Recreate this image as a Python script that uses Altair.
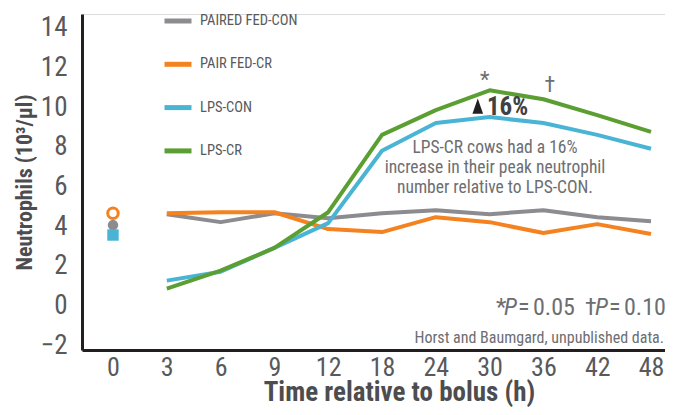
import altair as alt
import pandas as pd

# ---------------- data ----------------
hours = ["0", "3", "6", "9", "12", "18", "24", "30", "36", "42", "48"]
series_names = ["PAIRED FED-CON", "PAIR FED-CR", "LPS-CON", "LPS-CR"]
series_colors = ["#8c8b90", "#f58220", "#4ab4d4", "#5b9f32"]

paired_fed_con = [4.6, 4.2, 4.65, 4.4, 4.65, 4.8, 4.6, 4.8, 4.45, 4.25]
pair_fed_cr = [4.65, 4.7, 4.7, 3.85, 3.7, 4.45, 4.2, 3.65, 4.1, 3.6]
lps_con = [1.25, 1.7, 2.9, 4.15, 7.8, 9.2, 9.5, 9.2, 8.6, 7.9]
lps_cr = [0.85, 1.75, 2.9, 4.7, 8.6, 9.85, 10.85, 10.4, 9.6, 8.75]

# values at hour 0 (separate markers)
baseline_gray = [4.05]
baseline_orange = [4.65]
baseline_blue = [3.55]

y_ticks = [-2, 0, 2, 4, 6, 8, 10, 12, 14]

FONT = "Roboto Condensed, Liberation Sans Narrow, DejaVu Sans Condensed, Roboto, sans-serif"
TXT = "#58595b"
DARK = "#231f20"

rows = []
for name, vals in zip(series_names, [paired_fed_con, pair_fed_cr, lps_con, lps_cr]):
    for i, v in enumerate(vals):
        rows.append({"series": name, "idx": i + 1, "hour": hours[i + 1], "value": v})
df = pd.DataFrame(rows)

label_expr = "[" + ",".join("'" + h + "'" for h in hours) + "][datum.value]"

x_scale = alt.Scale(domain=[-0.576, 10.26], nice=False, zero=False)
y_scale = alt.Scale(domain=[-2.25, 14.7], nice=False, zero=False)

x_enc = alt.X("idx:Q", scale=x_scale, axis=alt.Axis(
    values=list(range(len(hours))), labelExpr=label_expr, grid=False, ticks=False,
    domainColor=DARK, domainWidth=3, labelFontSize=26, labelFont=FONT, labelColor=TXT,
    labelPadding=4, title="Time relative to bolus (h)", titleFont=FONT, titleFontSize=27,
    titleFontWeight="bold", titleColor="#4d4d4f", titleX=317, titleY=50,
    titleBaseline="alphabetic"))
y_enc = alt.Y("value:Q", scale=y_scale, axis=alt.Axis(
    values=y_ticks, grid=False, ticks=False, domainColor=DARK, domainWidth=3,
    labelFontSize=27, labelFont=FONT, labelColor=TXT, labelPadding=15,
    title="Neutrophils (10³/µl)", titleFont=FONT, titleFontSize=22,
    titleFontWeight="bold", titleColor="#4d4d4f", titleX=-58,
    titleBaseline="middle"))

lines = alt.Chart(df).mark_line(strokeWidth=4, strokeJoin="round").encode(
    x=x_enc, y=y_enc,
    color=alt.Color("series:N", scale=alt.Scale(domain=series_names, range=series_colors),
                    legend=alt.Legend(orient="none", legendX=80, legendY=-9, title=None,
                                      symbolType="stroke", symbolStrokeWidth=5,
                                      symbolSize=729, labelFontSize=14.5, labelFont=FONT,
                                      labelColor=TXT, labelOffset=6, rowPadding=17.3,
                                      direction="vertical")),
    order="idx:Q",
)

base0 = pd.DataFrame({"idx": [0], "g": baseline_gray, "o": baseline_orange, "b": baseline_blue})
m_gray = alt.Chart(base0).mark_point(filled=True, size=110, color="#8c8b90", opacity=1).encode(
    x="idx:Q", y="g:Q")
m_blue = alt.Chart(base0).mark_point(shape="square", filled=True, size=130, color="#4ab4d4",
                                     opacity=1).encode(x="idx:Q", y="b:Q")
m_orange = alt.Chart(base0).mark_point(filled=False, size=110, stroke="#f58220", strokeWidth=3,
                                       fill="white", fillOpacity=1, opacity=1).encode(
    x="idx:Q", y="o:Q")

# annotations
ann_star = pd.DataFrame({"idx": [6.91, 8.12], "v": [11.35, 11.1], "t": ["*", "†"]})
stars = alt.Chart(ann_star).mark_text(font=FONT, fontSize=22, color="#6d6e71",
                                      baseline="middle").encode(x="idx:Q", y="v:Q", text="t:N")

pct = pd.DataFrame({"idx": [6.95], "v": [10.0], "t": ["16%"]})
pct_text = alt.Chart(pct).mark_text(font=FONT, fontSize=25, fontWeight="bold", color="#414042",
                                    align="left", baseline="middle").encode(
    x="idx:Q", y="v:Q", text="t:N")
tri = pd.DataFrame({"idx": [6.78], "v": [10.05]})
tri_mark = alt.Chart(tri).mark_point(shape="M0,-1L0.7,1L-0.7,1Z", filled=True, size=230,
                                     color=DARK, opacity=1).encode(x="idx:Q", y="v:Q")

note = pd.DataFrame({"idx": [7.1], "v": [7.94],
                     "t": [["LPS-CR cows had a 16%", "increase in their peak neutrophil",
                            "number relative to LPS-CON."]]})
note_text = alt.Chart(note).mark_text(font=FONT, fontSize=17.5, color="#6d6e71", align="center",
                                      baseline="middle", lineHeight=20).encode(
    x="idx:Q", y="v:Q", text="t")

# footnotes (pixel layout, relative to plot origin)
pieces = [
    ("*", 414, "normal"),
    ("P", 422, "italic"),
    ("=", 436, "normal"),
    ("0.05", 451, "normal"),
    ("†", 503, "normal"),
    ("P", 513, "italic"),
    ("=", 527, "normal"),
    ("0.10", 542, "normal"),
]
foot_layers = []
for t, xl, st in pieces:
    foot_layers.append(alt.Chart(base0).mark_text(
        text=t, font=FONT, fontSize=24, fontStyle=st, color="#6d6e71", align="left",
        baseline="middle").encode(x=alt.value(xl), y=alt.value(294)))
credit = alt.Chart(base0).mark_text(
    text="Horst and Baumgard, unpublished data.", font=FONT, fontSize=16, color="#6d6e71",
    align="right", baseline="middle").encode(x=alt.value(582), y=alt.value(324))

chart = alt.layer(
    lines, m_gray, m_blue, m_orange, stars, tri_mark, pct_text, note_text, *foot_layers, credit
).properties(
    width=583, height=336,
    padding={"left": 74, "top": 6, "right": 0, "bottom": 57},
    autosize=alt.AutoSizeParams(type="none"),
).configure_view(stroke=None).configure(background="white")

chart.save("out.html", embed_options={"renderer": "svg", "actions": False})
